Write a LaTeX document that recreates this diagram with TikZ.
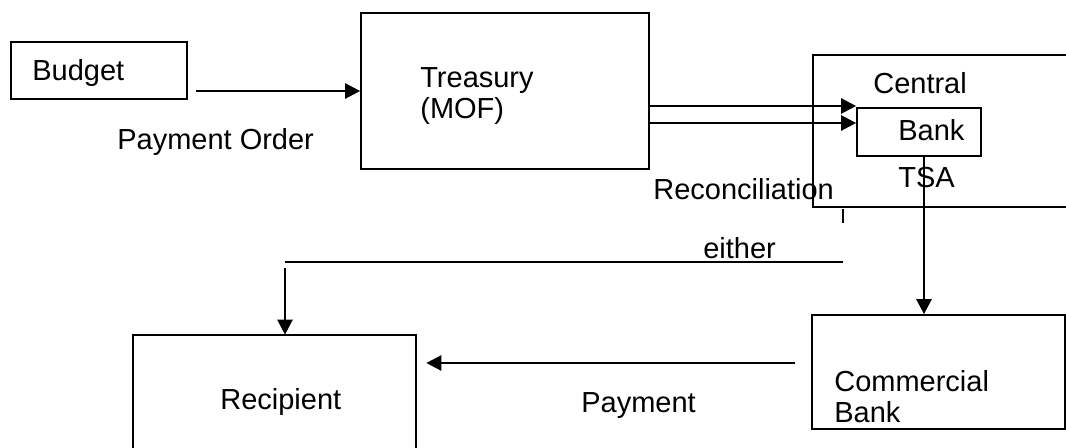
\documentclass[tikz,border=0pt]{standalone}
\usepackage{fontspec}
\setmainfont{Liberation Sans}
\usetikzlibrary{arrows.meta}

\tikzset{
	box/.style={draw, line width=1pt, inner sep=0pt},
	openbox/.style={inner sep=0pt},
	flow/.style={line width=1.4pt, -{Triangle[length=0.3cm, width=0.3cm]}},
	txt/.style={anchor=base west, inner sep=0pt, font=\fontsize{16.5}{20}\selectfont},
}

\begin{document}
\begin{tikzpicture}[x=0.02cm, y=-0.02cm]
	\useasboundingbox (0,0) rectangle (1066,447);
	% boxes
	\node[box, minimum width=3.52cm, minimum height=1.14cm] (budget) at (99,70.5) {};
	\node[box, minimum width=5.76cm, minimum height=3.12cm] (treasury) at (505,91) {};
	\node[box, minimum width=2.48cm, minimum height=0.96cm] (bank) at (919,132) {};
	\node[box, minimum width=5.06cm, minimum height=2.28cm] (commercial) at (938.5,372) {};
	% boxes cut by the page edge
	\node[openbox, minimum width=5.08cm, minimum height=3.04cm] (central) at (940,131) {};
	\node[openbox, minimum width=5.66cm, minimum height=2.28cm] (recipient) at (274.5,392) {};
	\draw[line width=1pt] (central.north east) -- (central.north west) -- (central.south west) -- (central.south east);
	\draw[line width=1pt] (recipient.south west) -- (recipient.north west) -- (recipient.north east) -- (recipient.south east);
	
	% texts
	\node[txt] (budgettxt) at (32,80) {Budget};
	\node[txt] (ordertxt) at (117,149) {Payment Order};
	\node[txt] (treasurytxt) at (420,87) {Treasury};
	\node[txt] (moftxt) at (420,118) {(MOF)};
	\node[txt] (centraltxt) at (873,93) {Central};
	\node[txt] (banktxt) at (898,140) {Bank};
	\node[txt] (tsatxt) at (898,187) {TSA};
	\node[txt] (recontxt) at (653,199) {Reconciliation};
	\node[txt] (eithertxt) at (703,258) {either};
	\node[txt] (recipienttxt) at (220,409) {Recipient};
	\node[txt] (paymenttxt) at (581,412) {Payment};
	\node[txt] (commtxt) at (834,391) {Commercial};
	\node[txt] (commbanktxt) at (834,422) {Bank};
	
	% payment order
	\path (budget.east |- 0,91) ++(8,0) coordinate (po);
	\draw[flow] (po) -- (po -| treasury.west);
	% treasury to TSA
	\draw[flow] (treasury.east |- 0,106) -- (bank.west |- 0,106);
	\draw[flow] (treasury.east |- 0,123) -- (bank.west |- 0,123);
	% TSA to commercial bank
	\draw[flow] (bank.south -| 924,0) -- (commercial.north -| 924,0);
	% either
	\draw[line width=1pt] (central.south west -| 843,0) ++(0,2) -- ++(0,14);
	\coordinate (e1) at (843,262);
	\draw[line width=1.4pt] (e1) -- (e1 -| 285,0);
	\draw[flow] (285,268) -- (recipient.north -| 285,0);
	% payment
	\path (commercial.west |- 0,363) ++(-16,0) coordinate (p1);
	\path (recipient.east |- p1) ++(10,0) coordinate (p2);
	\draw[flow] (p1) -- (p2);
\end{tikzpicture}
\end{document}
